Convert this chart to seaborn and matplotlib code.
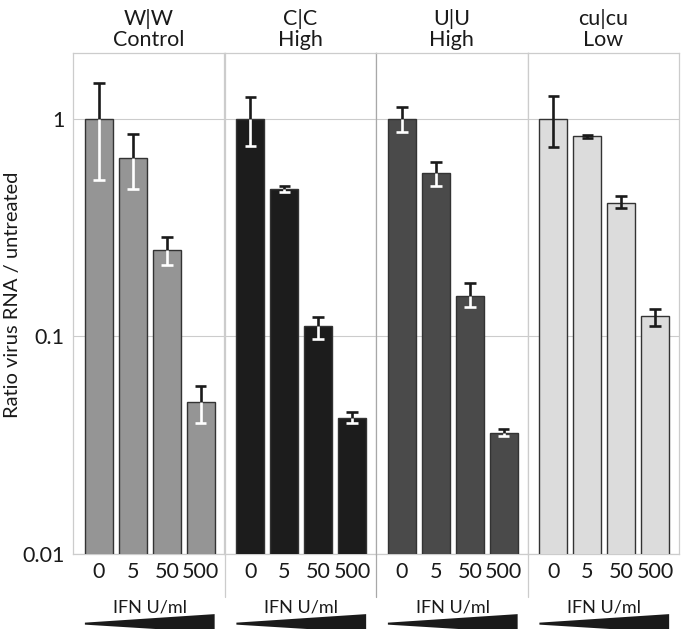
import matplotlib
matplotlib.use("Agg")
import matplotlib.pyplot as plt
from matplotlib.patches import Polygon
from matplotlib.lines import Line2D
from matplotlib.ticker import LogLocator, NullFormatter, FixedLocator
import seaborn as sns
import pandas as pd

# values
doses = ["0", "5", "50", "500"]
genotypes = ["W|W", "C|C", "U|U", "cu|cu"]
levels = ["Control", "High", "High", "Low"]
ratio_ww = [1.0, 0.66, 0.248, 0.050]
ratio_cc = [1.0, 0.477, 0.111, 0.042]
ratio_uu = [1.0, 0.56, 0.153, 0.036]
ratio_cu = [1.0, 0.83, 0.41, 0.124]
upper_ww = [1.46, 0.845, 0.285, 0.059]
lower_ww = [0.52, 0.477, 0.212, 0.040]
upper_cc = [1.25, 0.49, 0.123, 0.045]
lower_cc = [0.75, 0.46, 0.097, 0.040]
upper_uu = [1.135, 0.63, 0.175, 0.0375]
lower_uu = [0.87, 0.49, 0.136, 0.035]
upper_cu = [1.27, 0.84, 0.44, 0.134]
lower_cu = [0.74, 0.81, 0.387, 0.111]

bar_colors = ["#959595", "#1c1c1c", "#4a4a4a", "#dcdcdc"]
inner_err = ["white", "white", "white", "#1a1a1a"]

ratios = [ratio_ww, ratio_cc, ratio_uu, ratio_cu]
uppers = [upper_ww, upper_cc, upper_uu, upper_cu]
lowers = [lower_ww, lower_cc, lower_uu, lower_cu]

sns.set_style("white")
plt.rcParams["font.family"] = ["Lato", "DejaVu Sans"]

W, H = 683, 629
fig = plt.figure(figsize=(W / 100, H / 100), dpi=100)

x0, x1, ytop, ybot = 73, 679, 53, 554
pw = (x1 - x0) / 4
grid_col = "#cccccc"

for i in range(4):
    df = pd.DataFrame({"dose": doses, "ratio": ratios[i],
                       "hi": uppers[i], "lo": lowers[i]})
    ax = fig.add_axes([(x0 + i * pw) / W, (H - ybot) / H, pw / W, (ybot - ytop) / H])
    ax.set_yscale("log")
    sns.barplot(x="dose", y="ratio", data=df, order=doses, color=bar_colors[i],
                edgecolor="#333333", linewidth=1.0, width=0.82,
                errorbar=None, ax=ax, zorder=3)
    ax.set_ylim(0.01, 2)
    ax.set_xlim(-0.76, 3.7)

    # error bars: black above the bar, white (or black) inside it
    xs = range(len(doses))
    cw = 0.17
    ax.vlines(xs, df["ratio"], df["hi"], color="#1a1a1a", lw=1.9, zorder=4)
    ax.hlines(df["hi"], [x - cw for x in xs], [x + cw for x in xs], color="#1a1a1a", lw=1.9, zorder=4)
    ax.vlines(xs, df["lo"], df["ratio"], color=inner_err[i], lw=1.9, zorder=4)
    ax.hlines(df["lo"], [x - cw for x in xs], [x + cw for x in xs], color=inner_err[i], lw=1.9, zorder=4)

    ax.yaxis.set_major_locator(FixedLocator([0.01, 0.1, 1]))
    ax.yaxis.grid(True, which="major", color=grid_col, lw=0.8, zorder=0)
    ax.set_axisbelow(True)
    for s in ax.spines.values():
        s.set_color(grid_col)
        s.set_linewidth(0.9)
    if i == 2:
        ax.spines["left"].set_color("#a8a8a8")

    ax.set_xlabel("")
    ax.set_ylabel("")
    ax.tick_params(axis="x", length=0, pad=6, labelsize=15.5, colors="#1a1a1a")
    if i == 0:
        ax.yaxis.set_minor_locator(LogLocator(base=10, subs=range(2, 10)))
        ax.yaxis.set_minor_formatter(NullFormatter())
        ax.set_yticklabels(["0.01", "0.1", "1"])
        ax.tick_params(axis="y", which="major", length=4, color=grid_col,
                       labelsize=15.5, labelcolor="#1a1a1a", pad=2)
        ax.tick_params(axis="y", which="minor", length=3, color="#e0e0e0")
    else:
        ax.tick_params(axis="y", which="both", left=False, labelleft=False)
        ax.yaxis.set_minor_locator(FixedLocator([]))

    ax.set_title(genotypes[i] + "\n" + levels[i], fontsize=15.5, color="#1a1a1a",
                 pad=5, linespacing=1.05)

    ax.text(1.5, -0.107, "IFN U/ml", transform=ax.get_xaxis_transform(),
            ha="center", va="center", fontsize=13, color="#1a1a1a")

    # wedge showing increasing dose
    tr = ax.get_xaxis_transform()
    wl, wr = -0.41, 3.41
    wedge = Polygon([(wl, -0.137), (wl, -0.141), (wr, -0.157), (wr, -0.12)],
                    closed=True, transform=tr, facecolor="#1a1a1a",
                    edgecolor="none", clip_on=False)
    ax.add_patch(wedge)

    if i > 0:
        c = "#a8a8a8" if i == 2 else grid_col
        xl = (x0 + i * pw) / W
        fig.add_artist(Line2D([xl, xl], [(H - ybot) / H, (H - 597) / H],
                              color=c, lw=0.9, transform=fig.transFigure))

fig.text(13 / W, 1 - 295 / H, "Ratio virus RNA / untreated", rotation=90,
         ha="center", va="center", fontsize=14.5, color="#1a1a1a")

fig.savefig("out.png", dpi=100)
